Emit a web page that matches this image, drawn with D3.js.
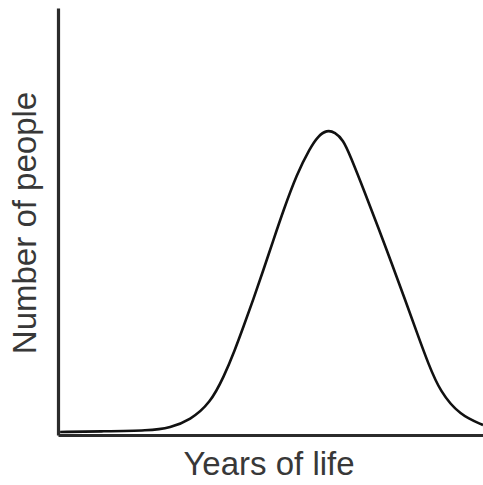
<!DOCTYPE html>
<html>
<head>
<meta charset="utf-8">
<script src="https://cdn.jsdelivr.net/npm/d3@7"></script>
<style>
  body { margin: 0; background: #fff; }
  svg { display: block; }
  .label { font-family: "Liberation Sans", Arial, sans-serif; font-size: 33px; fill: #383838; }
</style>
</head>
<body>
<svg class="life" width="483" height="485"></svg>
<script>
// points: years of life vs number of people (arbitrary units)
const years  = [0.5, 9.9, 21.6, 26.4, 31.1, 35.8, 39.1, 41.6, 43.6, 46.0, 48.3, 50.7, 53.0, 56.2, 59.3, 61.2, 63.2, 65.2, 67.1, 68.7, 72.2, 75.4, 78.5, 81.6, 84.8, 87.1, 89.9, 94.6, 100];
const people = [1.0, 1.2, 1.4, 2.4, 4.9, 10.4, 19.3, 27.8, 35.4, 44.6, 54.0, 64.0, 73.5, 85.6, 94.1, 98.0, 100, 99.3, 96.7, 91.8, 79.5, 67.8, 56.4, 44.6, 32.2, 23.5, 14.2, 6.4, 3.3];
const xTitle = "Years of life";
const yTitle = "Number of people";

const svg = d3.select("svg.life");
const width = +svg.attr("width");

const data = years.map((d, i) => ({ year: d, n: people[i] }));

const x = d3.scaleLinear().domain([0, 100]).range([58, width]);
const y = d3.scaleLinear().domain([0, 140]).range([435, 8]);

// axes: bare lines, no ticks
svg.append("g")
    .attr("transform", `translate(${x(0)},0)`)
    .call(d3.axisLeft(y).tickValues([]).tickSizeOuter(0));
svg.append("g")
    .attr("transform", `translate(0,${y(0)})`)
    .call(d3.axisBottom(x).tickValues([]).tickSizeOuter(0));

svg.selectAll(".domain")
    .attr("stroke", "#2b2b2b")
    .attr("stroke-width", 3.2);

// b-spline smooths out the reading noise
const line = d3.line()
    .x(d => x(d.year))
    .y(d => y(d.n))
    .curve(d3.curveBasis);

svg.append("path")
    .datum(data)
    .attr("fill", "none")
    .attr("stroke", "#111")
    .attr("stroke-width", 2.6)
    .attr("d", line);

svg.append("text")
    .attr("class", "label")
    .attr("x", 269)
    .attr("y", 475)
    .attr("text-anchor", "middle")
    .text(xTitle);

svg.append("text")
    .attr("class", "label")
    .attr("transform", "translate(36,223) rotate(-90)")
    .attr("text-anchor", "middle")
    .text(yTitle);
</script>
</body>
</html>
